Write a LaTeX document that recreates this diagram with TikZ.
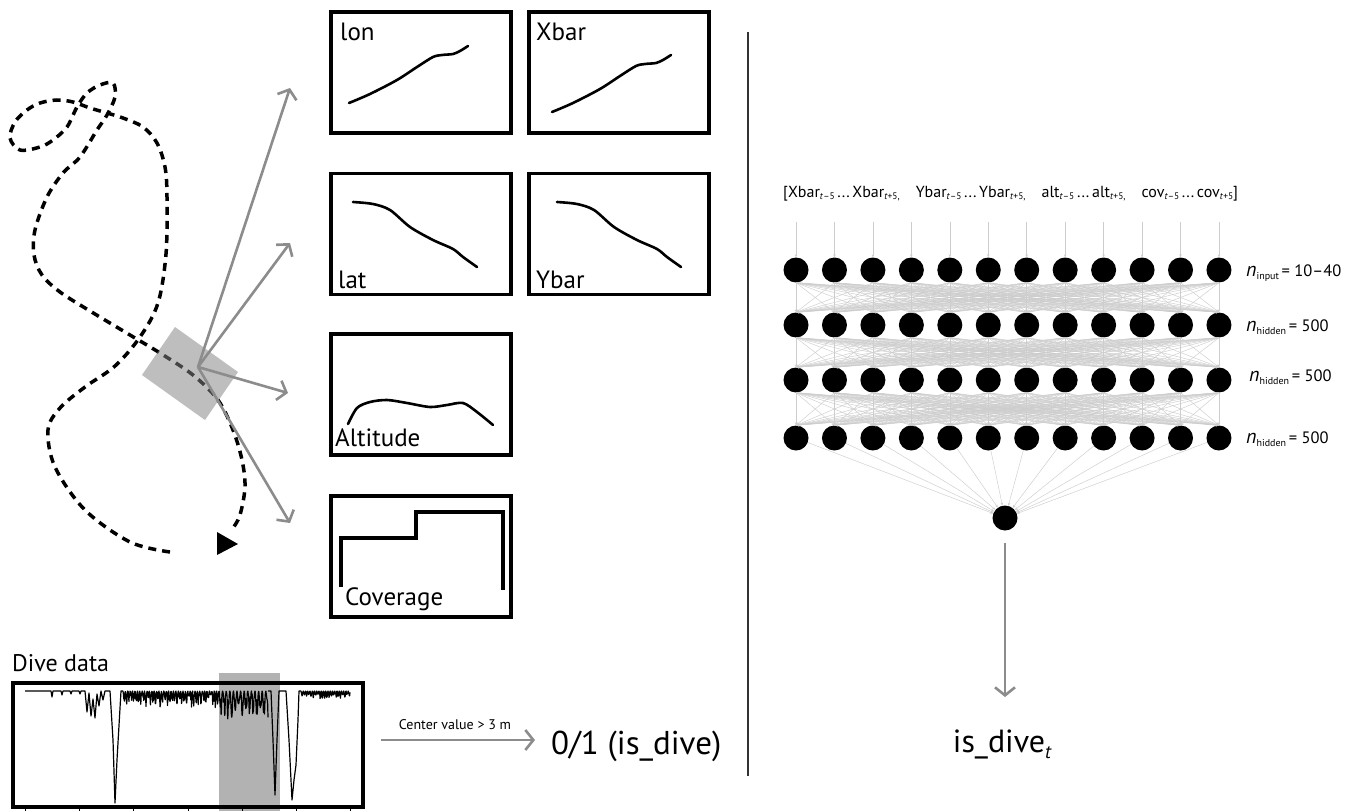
\documentclass[tikz,border=0pt]{standalone}
\usepackage{fontspec}
\setmainfont{PT Sans}
\usetikzlibrary{arrows.meta}

\definecolor{arrowgray}{RGB}{140,140,140}
\definecolor{linkgray}{RGB}{205,205,205}
\definecolor{patchgray}{RGB}{131,131,131}

\newcommand\ts[1]{\raisebox{-2.8pt}{\fontsize{9.5}{9.5}\selectfont #1}}
\newcommand\layer[2]{{\fontsize{20}{20}\selectfont\itshape n}\raisebox{-3.5pt}{\fontsize{10}{10}\selectfont #1}\,= #2}

\tikzset{
  plotbox/.style={draw, line width=3.2pt, minimum width=180pt, minimum height=121pt, inner sep=0pt},
  boxlabel/.style={anchor=base west, inner sep=0pt, font=\fontsize{25}{25}\selectfont},
  curve/.style={line width=2.6pt, line cap=round, line join=round},
  traj/.style={line width=3.5pt, dash pattern=on 8pt off 6pt},
  pointer/.style={draw=arrowgray, line width=2.6pt, -{Straight Barb[length=8pt,width=20pt]}},
  neuron/.style={circle, fill=black, minimum size=25pt, inner sep=0pt},
  link/.style={draw=linkgray, line width=0.45pt, -{Stealth[length=3pt,width=2.5pt]}},
  sig/.style={line width=1.2pt, line join=round},
  plain/.style={anchor=base west, inner sep=0pt},
}

\begin{document}
\begin{tikzpicture}[x=1pt,y=-1pt]
\useasboundingbox (0,0) rectangle (1352,811);
\fill[white] (0,0) rectangle (1352,811);

% ---------- trajectory ----------
\draw[traj] plot[smooth, tension=0.55] coordinates {
  (170,552) (130,542) (85,510) (55,467) (48,430) (60,408) (85,387) (115,366)
  (140,337) (158,303) (166,254) (167,197) (165,167) (157,143) (143,127) (123,118)
  (107,113) (90,108) (73,102) (57,100) (40,103) (27,110) (15,122) (10,138)
  (20,150) (40,147) (53,140) (67,127) (77,107) (87,93) (100,85) (113,83)
  (115,97) (107,115) (97,130) (80,157) (63,173) (47,197) (35,230) (34,255)
  (42,275) (60,292) (90,311) (130,335) (160,353) (193,375) (218,400) (233,430)
  (242,460) (245,487) (240,515) (233,528)};
\fill (217,532) -- (217,555) -- (238,544) -- cycle;

% window on the track
\fill[patchgray, fill opacity=0.52] (175,327) -- (238,372) -- (205,420) -- (142,375) -- cycle;

% ---------- feature plots ----------
\node[plotbox] (lon)  at (421,72.5) {};
\node[plotbox] (xbar) at (619,72.5) {};
\node[plotbox] (lat)  at (421,234) {};
\node[plotbox] (ybar) at (619,234) {};
\node[plotbox] (alt)  at (421,394.5) {};
\node[plotbox] (cov)  at (421,556.5) {};

\node[boxlabel] (lonlab)  at (340,40) {lon};
\node[boxlabel] (xbarlab) at (536,40) {Xbar};
\node[boxlabel] (latlab)  at (338,288) {lat};
\node[boxlabel] (ybarlab) at (536,288) {Ybar};
\node[boxlabel] (altlab)  at (335,446) {Altitude};
\node[boxlabel] (covlab)  at (345,605) {Coverage};

\draw[curve] plot[smooth] coordinates {(349,103) (370,94) (397,80) (417,67) (433,57) (442,55) (453,54) (460,51) (468,46)};
\draw[curve] plot[smooth] coordinates {(552,112) (573,103) (600,89) (620,76) (636,66) (645,64) (656,63) (663,60) (671,55)};
\draw[curve] plot[smooth] coordinates {(353,202) (373,204) (390,210) (410,227) (433,240) (453,249) (463,257) (477,267)};
\draw[curve] plot[smooth] coordinates {(557,202) (577,204) (594,210) (614,227) (637,240) (657,249) (667,257) (681,267)};
\draw[curve] plot[smooth] coordinates {(348,424) (357,408) (370,402) (387,400) (407,403) (430,407) (447,405) (463,403) (477,412) (493,425)};
\draw[line width=4pt, line join=miter] (341,587) -- (341,538) -- (416,538) -- (416,512) -- (503,512) -- (503,590);

% arrows from the window to the plots
\coordinate (win) at (198,367);
\coordinate (tlon) at (290,88);
\coordinate (tlat) at (290,243);
\coordinate (talt) at (288,393);
\coordinate (tcov) at (290,523);
\draw[pointer] (win) -- (tlon);
\draw[pointer] (win) -- (tlat);
\draw[pointer] (win) -- (talt);
\draw[pointer] (win) -- (tcov);

% ---------- dive data ----------
\node[plain, font=\fontsize{24}{24}\selectfont] (divelab) at (12,671) {Dive data};
\fill[black!30] (219,673) rectangle (280,811);
\node[draw, line width=3.2pt, minimum width=350pt, minimum height=124pt, inner sep=0pt] (dive) at (188,745) {};
\foreach \t in {25,79,133,188,242,296,350} \draw[line width=1pt] (\t,807) -- (\t,815);

\pgfmathsetseed{11}
\draw[sig] (25,691) -- (51,691) -- (52,697) -- (53,691) -- (61,691) -- (62,695) -- (63,691)
  -- (70,691) -- (71,694) -- (72,691) -- (79,691) -- (80,694) -- (81,691) -- (85,691)
  -- (87,712) -- (89,693) -- (91,716) -- (93,699) -- (95,718) -- (97,694) -- (99,706)
  -- (101,691) -- (103,700) -- (105,691) -- (110,691) -- (113,740) -- (115,803)
  -- (117,760) -- (121,691) -- (123,691);
\draw[sig] plot[domain=123:219, samples=260] (\x,{691+(3+14*rnd)*(0.5-0.5*cos(150*(\x-123)))});
\draw[sig] plot[domain=219:268, samples=140] (\x,{691+(8+22*rnd)*(0.5-0.5*cos(100*(\x-219)))});
\draw[sig] (268,691) -- (271,691) -- (273,740) -- (275,795) -- (277,740) -- (279,691)
  -- (286,691) -- (289,740) -- (292,800) -- (294,780) -- (296,765) -- (298,720)
  -- (299,691) -- (301,691);
\draw[sig] plot[domain=301:350, samples=150] (\x,{691+(2+6*rnd)*(0.5-0.5*cos(160*(\x-301)))});

\coordinate (cstart) at (381,740);
\coordinate (cend) at (535,740);
\draw[pointer] (cstart) -- (cend);
\node[anchor=base, inner sep=0pt, font=\fontsize{14}{14}\selectfont] (crit) at (455,729) {Center value > 3 m};
\node[plain, font=\fontsize{33}{33}\selectfont] (label01) at (551,754) {0/1 (is\_dive)};

% ---------- divider ----------
\coordinate (divtop) at (748,32);
\coordinate (divbot) at (748,776);
\draw[line width=2.5pt, draw=black!80] (divtop) -- (divbot);

% ---------- network ----------
\node[plain, font=\fontsize{16}{16}\selectfont] (inputs) at (783,197)
  {[Xbar\ts{\textit{t}–5}\,...\,Xbar\ts{\textit{t}+5,}\quad Ybar\ts{\textit{t}–5}\,...\,Ybar\ts{\textit{t}+5,}\quad alt\ts{\textit{t}–5}\,...\,alt\ts{\textit{t}+5,}\quad cov\ts{\textit{t}–5}\,...\,cov\ts{\textit{t}+5}]};

\foreach \r/\yy in {1/270,2/325,3/380,4/438}
  \foreach \c in {1,...,12}
    \node[neuron] (n\r-\c) at ({796+38.45*(\c-1)},\yy) {};
\node[neuron] (out) at (1005,518) {};

\foreach \c in {1,...,12} {
  \coordinate (in\c) at ({796+38.45*(\c-1)},222);
  \draw[link] (in\c) -- (n1-\c);
}
\foreach \r/\s in {1/2,2/3,3/4}
  \foreach \a in {1,...,12}
    \foreach \b in {1,...,12}
      \draw[link] (n\r-\a.south) -- (n\s-\b.north);
\foreach \a in {1,...,12} \draw[link] (n4-\a) -- (out);

\node[plain, font=\fontsize{16.5}{16.5}\selectfont] (lin)  at (1246,276) {\layer{input}{10–40}};
\node[plain, font=\fontsize{16.5}{16.5}\selectfont] (lh1)  at (1246,331) {\layer{hidden}{500}};
\node[plain, font=\fontsize{16.5}{16.5}\selectfont] (lh2)  at (1249,381) {\layer{hidden}{500}};
\node[plain, font=\fontsize{16.5}{16.5}\selectfont] (lh3)  at (1246,443) {\layer{hidden}{500}};

\coordinate (res) at (1005,697);
\draw[pointer, shorten <=12pt] (out) -- (res);
\node[anchor=base, inner sep=0pt, font=\fontsize{32}{32}\selectfont] (isdive) at (1002,752)
  {is\_dive\raisebox{-6pt}{\fontsize{19}{19}\selectfont\itshape t}};
\end{tikzpicture}
\end{document}
